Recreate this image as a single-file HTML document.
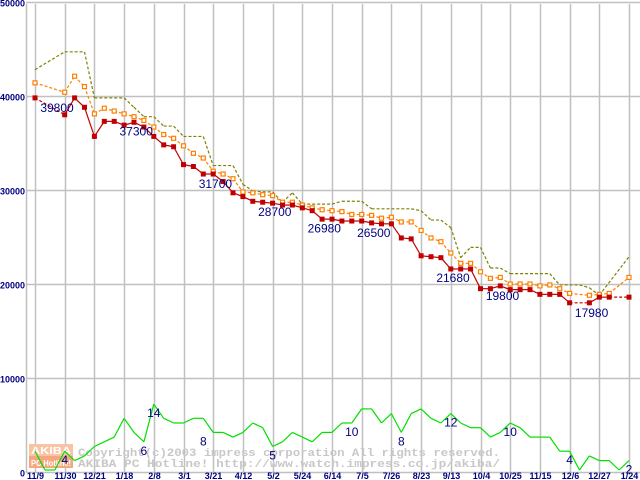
<!DOCTYPE html>
<html><head><meta charset="utf-8"><style>
html,body{margin:0;padding:0;background:#fff}
svg{display:block}
text{font-family:"Liberation Sans",sans-serif}
</style></head><body>
<svg id="chart" width="640" height="480" viewBox="0 0 640 480" xmlns="http://www.w3.org/2000/svg">
<g id="grid"></g>
<g id="watermark">
  <rect x="29" y="444" width="44" height="12" fill="#f9c4a4"/>
  <rect x="29" y="456" width="44" height="12" fill="#f4a880"/>
  <text x="31" y="454" font-size="10" font-weight="bold" fill="#fff" textLength="40" lengthAdjust="spacingAndGlyphs">AKIBA</text>
  <text x="31" y="466" font-size="8" font-weight="bold" fill="#fff" textLength="40" lengthAdjust="spacingAndGlyphs">PC Hotline!</text>
  <text x="78" y="456" font-size="11" font-weight="bold" fill="#c8c8c8" textLength="422" lengthAdjust="spacingAndGlyphs" style="font-family:'Liberation Mono',monospace">Copyright(c)2003 impress corporation All rights reserved.</text>
  <text x="78" y="467" font-size="11" font-weight="bold" fill="#c8c8c8" textLength="422" lengthAdjust="spacingAndGlyphs" style="font-family:'Liberation Mono',monospace">AKIBA PC Hotline!  http://www.watch.impress.co.jp/akiba/</text>
</g>
<g id="series"></g>
<g id="labels"></g>
</svg>
<script>
const xLabels=["11/9","11/30","12/21","1/18","2/8","3/1","3/21","4/12","5/2","5/24","6/14","7/5","7/26","8/23","9/13","10/4","10/25","11/15","12/6","12/27","1/24"];
const yTicks=[0,10000,20000,30000,40000,50000];
const minPrice=[39800,null,null,38000,39800,38800,35700,37300,37300,36900,37200,36700,35700,34800,34600,32700,32500,31700,31700,30900,29700,29300,28800,28700,28600,28400,28400,28100,27800,26900,26900,26700,26700,26700,26500,26400,26400,24900,24800,23000,22900,22800,21600,21600,21600,19500,19500,19800,19400,19400,19400,18900,18900,18900,18000,null,18000,18600,18600,null,18600];
const avgPrice=[41400,null,null,40400,42100,41000,38100,38700,38400,38100,37800,37400,36700,35900,35500,34700,33900,33400,32000,31700,31200,29800,29700,29500,29400,28700,28700,28400,28100,27900,27800,27700,27400,27400,27300,27000,27100,26600,26600,25700,24900,24500,23300,22200,22200,21300,20600,20700,20000,20000,20000,19800,19900,19500,19000,null,18800,18900,19000,null,20700];
const maxPrice=[42800,null,null,44700,44700,44700,39800,39800,39800,39800,38800,37800,37800,36800,36800,35700,35700,35700,32600,32600,32600,30600,29900,29800,29800,28700,29700,28500,28500,28500,28500,28800,28800,28800,28000,28000,28000,28000,28000,27800,26800,26800,26000,22800,23900,23900,21700,21700,21100,21100,21100,21100,21100,19900,19900,19900,19600,18800,null,null,22900];
const volume=[4,0,0,4,2,3,5,6,7,11,8,6,14,11,10,10,11,11,8,8,7,8,10,9,5,6,8,7,6,8,8,10,10,13,13,10,12,8,12,13,11,10,12,10,9,9,7,8,10,9,7,7,7,4,4,0,3,2,2,0,2];
const priceNoteIdx=[0,8,16,22,27,32,40,45,54];
const priceNoteVal=[39800,37300,31700,28700,26980,26500,21680,19800,17980];
const volNotes=[[3,4],[11,6],[12,14],[17,8],[24,5],[32,10],[37,8],[42,12],[48,10],[54,4],[60,2]];

const NS="http://www.w3.org/2000/svg";
const X0=35,DX=9.9,Y0=472,PPU=0.0094,VY0=470,VPU=4.7;
const xs=i=>X0+i*DX;
const yp=v=>Y0-v*PPU;
const yv=v=>VY0-v*VPU;
function mk(tag,attrs,parent){const e=document.createElementNS(NS,tag);for(const k in attrs)e.setAttribute(k,attrs[k]);parent.appendChild(e);return e;}
const grid=document.getElementById('grid'),ser=document.getElementById('series'),lab=document.getElementById('labels');

yTicks.forEach(t=>{
  const y=Math.round(yp(t))+0.5;
  const l=mk('line',{x1:26,x2:640,y1:y,y2:y,stroke:'#c0c0c0','stroke-width':1.5},grid);
  
  
  const s=String(t);
  const tx=mk('text',{x:25,y:y+4,'font-size':9,'font-weight':'bold',fill:'#000080','text-anchor':'end',textLength:s.length*5,lengthAdjust:'spacingAndGlyphs'},lab);
  tx.textContent=s;
  
  
});
const ax=mk('line',{x1:26.5,x2:26.5,y1:4,y2:472,stroke:'#c0c0c0','stroke-width':1.5},grid);


xLabels.forEach((s,k)=>{
  const x=Math.round(xs(k*3))+0.5;
  const l=mk('line',{x1:x,x2:x,y1:4,y2:472,stroke:'#c0c0c0','stroke-width':1.5},grid);
  
  
  const tx=mk('text',{x:x,y:479,'font-size':9,'font-weight':'bold',fill:'#000080','text-anchor':'middle'},lab);
  tx.textContent=s;
  
  
});

function drawSeries(arr,yf,color,name,solid){
  let prev=null;
  for(let i=0;i<arr.length;i++){
    if(arr[i]==null)continue;
    if(prev!=null){
      const gap=i-prev>1;
      const a={x1:xs(prev),y1:yf(arr[prev]),x2:xs(i),y2:yf(arr[i]),stroke:color,'stroke-width':1.2};
      if(!solid||gap)a['stroke-dasharray']='3,2';
      const l=mk('line',a,ser);
      
      
    }
    prev=i;
  }
}
drawSeries(maxPrice,yp,'#808000','max-price',false);
drawSeries(avgPrice,yp,'#ff8000','avg-price',false);
drawSeries(minPrice,yp,'#c00000','min-price',true);
drawSeries(volume,yv,'#00e000','volume',true);
avgPrice.forEach((v,i)=>{if(v==null)return;
  const r=mk('rect',{x:xs(i)-2,y:yp(v)-2,width:4,height:4,fill:'#fff',stroke:'#ff8000','stroke-width':1.2},ser);
  
  
});
minPrice.forEach((v,i)=>{if(v==null)return;
  const r=mk('rect',{x:xs(i)-2.5,y:yp(v)-2.5,width:5,height:5,fill:'#c00000'},ser);
  
  
});
priceNoteIdx.forEach((i,k)=>{
  const v=priceNoteVal[k];
  const t=mk('text',{x:xs(i)+22,y:yp(v)+14,'font-size':12,fill:'#000080','text-anchor':'middle'},lab);
  t.textContent=String(v);
  
  
});
volNotes.forEach(([i,v])=>{
  const t=mk('text',{x:xs(i),y:yv(v)+13,'font-size':12,fill:'#000080','text-anchor':'middle'},lab);
  t.textContent=String(v);
  
  
});
</script>
</body></html>
